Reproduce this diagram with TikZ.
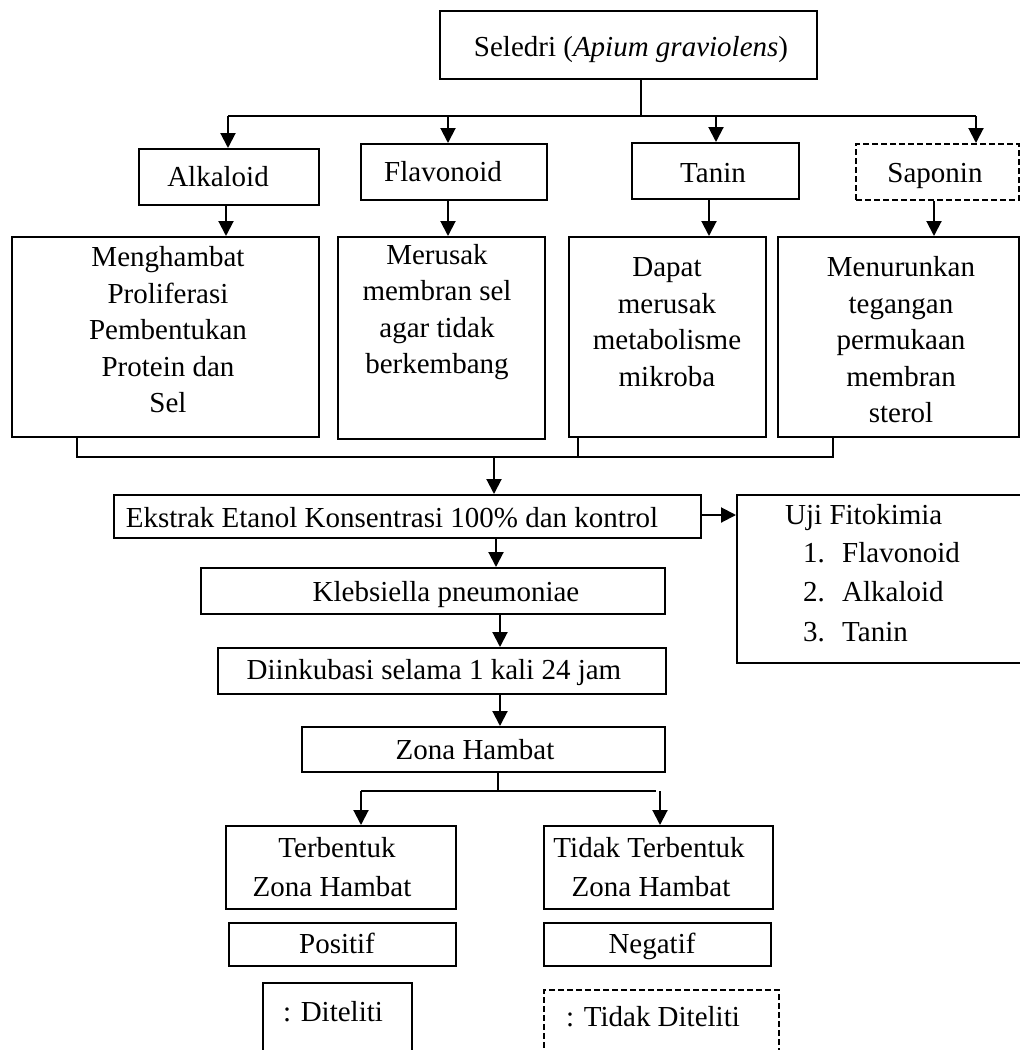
\documentclass[tikz,border=0pt]{standalone}
\usepackage{fontspec}
\setmainfont{Liberation Serif}
\usetikzlibrary{arrows.meta}
\begin{document}
\begin{tikzpicture}[x=1pt,y=-1pt,
  font=\fontsize{29}{36.5}\selectfont,
  box/.style={draw,line width=2pt,inner sep=0pt,rectangle},
  dbox/.style={box,dash pattern=on 6pt off 3pt},
  lbl/.style={inner sep=0pt,align=center},
  sl/.style={lbl,text height=25pt,text depth=6pt},
  conn/.style={line width=2pt},
  arr/.style={line width=2pt,-{Triangle[length=15pt,width=15pt]}}]
\useasboundingbox (0,0) rectangle (1020,1050);
\clip (0,0) rectangle (1020,1050);
% boxes
\node[box,minimum width=377pt,minimum height=68pt] (sel) at (628.5,45) {};
\node[box,minimum width=180pt,minimum height=56pt] (alk) at (229,177) {};
\node[box,minimum width=186pt,minimum height=56pt] (fla) at (454,172) {};
\node[box,minimum width=167pt,minimum height=56pt] (tan) at (715.5,171) {};
\node[dbox,minimum width=163pt,minimum height=56pt] (sap) at (937.5,172) {};
\node[box,minimum width=307pt,minimum height=200pt] (m1) at (165.5,337) {};
\node[box,minimum width=207pt,minimum height=202pt] (m2) at (441.5,338) {};
\node[box,minimum width=197pt,minimum height=200pt] (m3) at (667.5,337) {};
\node[box,minimum width=241pt,minimum height=200pt] (m4) at (898.5,337) {};
\node[box,minimum width=587pt,minimum height=43pt] (eks) at (407.5,516.5) {};
\node[box,minimum width=303pt,minimum height=168pt] (uji) at (888.5,579) {};
\node[box,minimum width=464pt,minimum height=46pt] (kle) at (433,591) {};
\node[box,minimum width=448pt,minimum height=46pt] (inc) at (442,671) {};
\node[box,minimum width=363pt,minimum height=45pt] (zona) at (483.5,749.5) {};
\node[box,minimum width=230pt,minimum height=83pt] (ter) at (341,867.5) {};
\node[box,minimum width=229pt,minimum height=83pt] (tid) at (658.5,867.5) {};
\node[box,minimum width=227pt,minimum height=43pt] (pos) at (342.5,944.5) {};
\node[box,minimum width=227pt,minimum height=43pt] (neg) at (657.5,944.5) {};
\node[box,line width=1.4pt,minimum width=149pt,minimum height=97pt] (dit) at (337.5,1031.5) {};
\node[dbox,line width=1.4pt,minimum width=235pt,minimum height=90pt] (tdit) at (661.5,1035) {};
% texts
\node[sl] (tsel) at (631,47) {Seledri (\textit{Apium graviolens})};
\node[sl] (talk) at (218,177) {Alkaloid};
\node[sl] (tfla) at (443,172) {Flavonoid};
\node[sl] (ttan) at (713,173) {Tanin};
\node[sl] (tsap) at (935,173) {Saponin};
\node[lbl] (tm1) at (168,330) {Menghambat\\Proliferasi\\Pembentukan\\Protein dan\\Sel};
\node[lbl] (tm2) at (437,312) {Merusak\\membran sel\\agar tidak\\berkembang};
\node[lbl] (tm3) at (667,322) {Dapat\\merusak\\metabolisme\\mikroba};
\node[lbl] (tm4) at (901,340) {Menurunkan\\tegangan\\permukaan\\membran\\sterol};
\node[sl] (teks) at (392,518) {Ekstrak Etanol Konsentrasi 100\% dan kontrol};
\node[sl,anchor=west] (tuji) at (785,515) {Uji Fitokimia};
\node[sl,anchor=west] (n1) at (803,553) {1.};
\node[sl,anchor=west] (n2) at (803,592) {2.};
\node[sl,anchor=west] (n3) at (803,632) {3.};
\node[sl,anchor=west] (u1) at (842,553) {Flavonoid};
\node[sl,anchor=west] (u2) at (842,592) {Alkaloid};
\node[sl,anchor=west] (u3) at (842,632) {Tanin};
\node[sl] (tkle) at (446,592) {Klebsiella pneumoniae};
\node[sl] (tinc) at (434,670) {Diinkubasi selama 1 kali 24 jam};
\node[sl] (tzona) at (475,750) {Zona Hambat};
\node[sl] (tter1) at (337,848) {Terbentuk};
\node[sl] (tter2) at (332,887) {Zona Hambat};
\node[sl] (ttid1) at (649,848) {Tidak Terbentuk};
\node[sl] (ttid2) at (651,887) {Zona Hambat};
\node[sl] (tpos) at (337,944) {Positif};
\node[sl] (tneg) at (652,944) {Negatif};
\node[sl] (tdi) at (333,1012) {: Diteliti};
\node[sl] (ttdi) at (653,1017) {: Tidak Diteliti};
% connectors top
\coordinate (j1) at (641,116);
\coordinate (a1) at (228,116);
\coordinate (a2) at (448,116);
\coordinate (a3) at (716,116);
\coordinate (a4) at (976,116);
\draw[conn] (sel.south -| j1) -- (j1);
\draw[conn] (a1) -- (a4);
\draw[arr] (a1) -- (a1 |- alk.north);
\draw[arr] (a2) -- (a2 |- fla.north);
\draw[arr] (a3) -- (a3 |- tan.north);
\draw[arr] (a4) -- (a4 |- sap.north);
\coordinate (b1) at (226,236);
\coordinate (b2) at (448,236);
\coordinate (b3) at (709,236);
\coordinate (b4) at (934,236);
\draw[arr] (alk.south -| b1) -- (b1 |- m1.north);
\draw[arr] (fla.south -| b2) -- (b2 |- m2.north);
\draw[arr] (tan.south -| b3) -- (b3 |- m3.north);
\draw[arr] (sap.south -| b4) -- (b4 |- m4.north);
% collect
\coordinate (c1) at (77,457);
\coordinate (c3) at (578,457);
\coordinate (c4) at (833,457);
\coordinate (cm) at (494,457);
\draw[conn] (m1.south -| c1) -- (c1) -- (c4) -- (m4.south -| c4);
\draw[conn] (m3.south -| c3) -- (c3);
\draw[arr] (cm) -- (cm |- eks.north);
\draw[arr] (eks.east |- tuji) -- (uji.west |- tuji);
\coordinate (d1) at (496,0);
\coordinate (d2) at (500,0);
\draw[arr] (d1 |- eks.south) -- (d1 |- kle.north);
\draw[arr] (d2 |- kle.south) -- (d2 |- inc.north);
\draw[arr] (d2 |- inc.south) -- (d2 |- zona.north);
\coordinate (e0) at (498,791);
\coordinate (e1) at (361,791);
\coordinate (e2) at (660,791);
\draw[conn] (zona.south -| e0) -- (e0);
\draw[conn] (e1) -- (656,791);
\draw[arr] (e1) -- (e1 |- ter.north);
\draw[arr] (e2) -- (e2 |- tid.north);
\end{tikzpicture}
\end{document}
